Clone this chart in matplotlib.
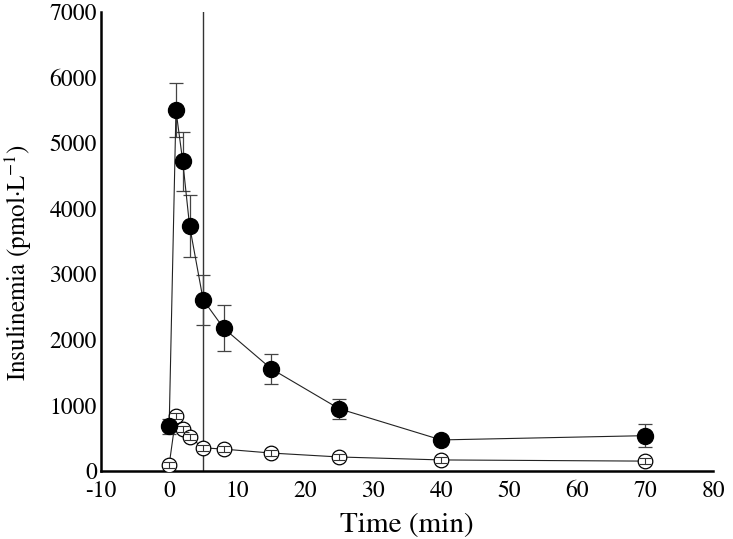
import matplotlib
matplotlib.use("Agg")
import matplotlib.pyplot as plt

time = [0, 1, 2, 3, 5, 8, 15, 25, 40, 70]
filled_vals = [680, 5500, 4720, 3740, 2610, 2180, 1560, 950, 475, 540]
filled_err = [110, 410, 450, 470, 380, 350, 230, 150, 40, 180]
open_vals = [95, 840, 640, 520, 355, 335, 275, 215, 170, 152]
open_err = [45, 45, 45, 45, 45, 45, 45, 45, 45, 45]
xticks = [-10, 0, 10, 20, 30, 40, 50, 60, 70, 80]
yticks = [0, 1000, 2000, 3000, 4000, 5000, 6000, 7000]
vline_x = 5

plt.rcParams['font.family'] = ['STIXGeneral', 'Liberation Serif', 'DejaVu Serif']
plt.rcParams['mathtext.fontset'] = 'stix'
plt.rcParams['axes.unicode_minus'] = False

fig = plt.figure(figsize=(7.33, 5.39), dpi=100)
ax = fig.add_axes([0.138, 0.126, 0.835, 0.852])

ax.axvline(vline_x, color='#333333', lw=1.0, zorder=1)

ax.errorbar(time, filled_vals, yerr=filled_err, fmt='none', ecolor='#444444',
            elinewidth=0.9, capsize=5, capthick=0.9, zorder=2)
ax.plot(time, filled_vals, color='#222222', lw=0.8, zorder=2)
ax.plot(time, filled_vals, 'o', ms=11.5, color='black', zorder=4)

ax.plot(time, open_vals, color='#222222', lw=0.8, zorder=2)
ax.plot(time, open_vals, 'o', ms=10.5, mfc='white', mec='black', mew=0.9, zorder=3)
ax.errorbar(time, open_vals, yerr=open_err, fmt='none', ecolor='#333333',
            elinewidth=0.8, capsize=4, capthick=0.8, zorder=3.5)

ax.set_xlim(-10, 80)
ax.set_ylim(0, 7000)
ax.set_xticks(xticks)
ax.set_yticks(yticks)
ax.tick_params(length=0, labelsize=17)
ax.tick_params(axis='x', pad=7)
ax.tick_params(axis='y', pad=3)
for s in ['top', 'right']:
    ax.spines[s].set_visible(False)
for s in ['left', 'bottom']:
    ax.spines[s].set_linewidth(1.8)

ax.set_xlabel('Time (min)', fontsize=21)
ax.xaxis.set_label_coords(0.5, -0.09)
ax.set_ylabel('Insulinemia (pmol·L$^{-1}$)', fontsize=18)
ax.yaxis.set_label_coords(-0.11, 0.455)

fig.savefig('out.png', dpi=100)
